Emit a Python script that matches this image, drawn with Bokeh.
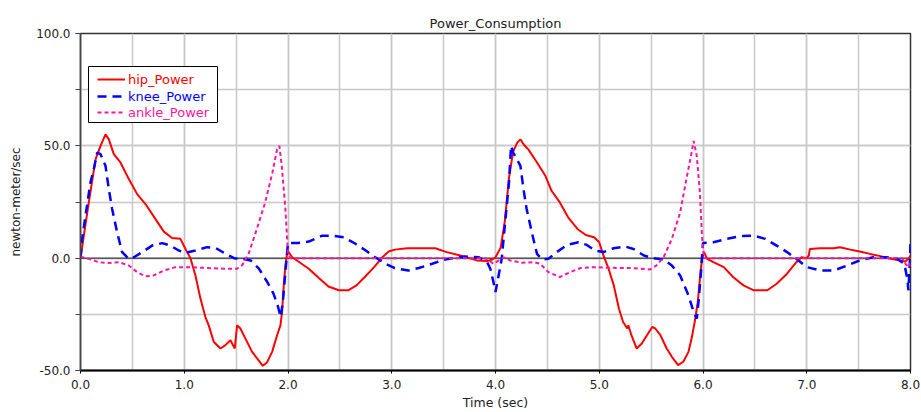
from bokeh.plotting import figure
from bokeh.models import (FixedTicker, PrintfTickFormatter, Span, Legend, LegendItem,
                          BoxAnnotation, Range1d)
from bokeh.embed import file_html
from bokeh.resources import INLINE

# ---------------- data ----------------
hip_t = [0, 0.032, 0.08, 0.145, 0.193, 0.241, 0.273, 0.321, 0.385, 0.466, 0.546, 0.626, 0.723,
         0.803, 0.883, 0.963, 1.012, 1.06, 1.108, 1.156, 1.204, 1.236, 1.285, 1.349, 1.397, 1.445,
         1.487, 1.509, 1.541, 1.59, 1.654, 1.702, 1.757, 1.798, 1.847, 1.895, 1.927, 1.943, 1.959,
         1.975, 1.995, 2.04, 2.10, 2.2, 2.3, 2.39, 2.49, 2.58, 2.66, 2.74, 2.83, 2.91, 2.97, 3.03,
         3.15, 3.26, 3.42, 3.53, 3.66, 3.82, 3.92, 3.97, 4.0, 4.05, 4.09, 4.13, 4.17, 4.21, 4.24,
         4.27, 4.32, 4.40, 4.48, 4.54, 4.62, 4.70, 4.79, 4.87, 4.95, 5.0, 5.04, 5.09, 5.14, 5.19,
         5.23, 5.27, 5.28, 5.31, 5.36, 5.41, 5.46, 5.51, 5.54, 5.59, 5.65, 5.70, 5.76, 5.81, 5.86,
         5.89, 5.92, 5.95, 5.97, 5.99, 6.01, 6.04, 6.10, 6.2, 6.29, 6.39, 6.49, 6.62, 6.71, 6.81,
         6.90, 6.95, 7.0, 7.02, 7.03, 7.13, 7.26, 7.32, 7.42, 7.51, 7.61, 7.71, 7.81, 7.90, 7.95,
         7.98, 8.0]
hip_v = [0, 10, 24.8, 44, 50, 55.1, 52.9, 46.3, 42.6, 35.2, 28.5, 24.1, 17.4,
         11.8, 9.0, 8.6, 4.1, 0, -7.7, -18, -26.2, -29.9, -37.3, -40.2, -38.7, -36.5,
         -40.2, -29.9, -31.3, -35.8, -41.7, -44.6, -47.9, -46.4, -41.7, -34.3, -29.9, -23.9, -12.1,
         -3.3, 3.4, 0.4, -1.5, -4.7, -8.9, -12.6, -14.3, -14.3, -12.1, -8.4, -4.0, 0.4, 3.0, 3.8,
         4.4, 4.4, 4.4, 2.7, 1.2, -1.0, -1.3, -0.6, 0.4, 4.7, 16.5, 35.7, 47.5, 51.4, 52.9,
         50.7, 48.2, 42.6, 36.7, 30, 24.8, 18.2, 13, 10.3, 9.3, 7.1, 1.2, -4.7, -12.1, -22.5,
         -28.4, -31.3, -29.9, -34.3, -40.2, -38, -34.3, -30.6, -31.3, -34.3, -40.2, -43.9, -47.6, -46.1, -41.7,
         -35.8, -28.4, -19.5, -9.2, -0.3, 2.7, -0.3, -1.8, -4.0, -8.4, -12.1, -14.3, -14.3, -11.4, -6.9,
         -1.8, 0.4, 0, 1.2, 4.1, 4.4, 4.4, 4.9, 3.8, 3.0, 1.9, 0.9, -0.3, -1.0, -1.5,
         -0.3, 1.2]

knee_t = [0, 0.016, 0.048, 0.096, 0.128, 0.161, 0.193, 0.241, 0.273, 0.305, 0.353, 0.401, 0.466,
          0.514, 0.594, 0.69, 0.787, 0.867, 0.947, 1.012, 1.108, 1.22, 1.30, 1.40, 1.48, 1.56, 1.64,
          1.72, 1.80, 1.86, 1.90, 1.93, 1.95, 1.975, 1.99, 2.0, 2.10, 2.2, 2.33, 2.42, 2.54, 2.65,
          2.75, 2.84, 2.94, 3.03, 3.16, 3.26, 3.39, 3.48, 3.58, 3.71, 3.84, 3.92, 3.95, 3.98, 4.0,
          4.03, 4.06, 4.09, 4.13, 4.15, 4.17, 4.24, 4.27, 4.30, 4.35, 4.40, 4.45, 4.51, 4.59, 4.69,
          4.80, 4.88, 4.96, 5.04, 5.14, 5.25, 5.33, 5.43, 5.52, 5.62, 5.70, 5.78, 5.86, 5.91, 5.94,
          5.96, 5.98, 6.0, 6.10, 6.23, 6.36, 6.49, 6.6, 6.71, 6.81, 6.90, 7.0, 7.13, 7.26, 7.39,
          7.51, 7.64, 7.77, 7.87, 7.94, 7.97, 7.98, 7.99, 8.0]
knee_v = [0, 8.6, 18.9, 33.7, 39.6, 47, 46.3, 41.1, 30.7, 21.9, 11.5, 2.7, -0.3,
          0.4, 2.7, 5.6, 6.7, 5.6, 3.4, 2.4, 3.4, 4.9, 4.6, 1.9, 0, -0.3, -1.0,
          -4.7, -10.6, -15.8, -21, -26.2, -19.5, -6.2, 1.9, 6.8, 6.8, 7.4, 10, 10, 9.3, 6.4,
          3.4, 0.4, -2.5, -4.4, -5.5, -4.4, -2.5, -1.0, 0, 0.7, 0.4, -1.8, -4.7, -10.6, -15.1,
          -7.7, -0.3, 14.5, 33.7, 50, 47, 41.1, 30.7, 21.9, 11.5, 1.9, -0.6, -0.3, 2.7, 5.9,
          7.1, 5.9, 3.4, 2.7, 4.4, 5.2, 4.1, 1.2, 0, -0.6, -3.3, -7.7, -16.6, -23.9, -26.9,
          -18, -6.2, 6.8, 7.1, 8.6, 9.8, 10, 8.6, 5.6, 2.7, -0.3, -4.0, -5.5, -5.5, -3.3,
          -1.0, 0.4, 0.4, -0.3, -2.5, -9.2, -14.3, -4.7, 6.4]

ankle_t = [0, 0.08, 0.177, 0.273, 0.37, 0.466, 0.546, 0.626, 0.706, 0.803, 0.915, 1.04, 1.236,
           1.397, 1.51, 1.56, 1.62, 1.70, 1.78, 1.85, 1.895, 1.917, 1.94, 1.975, 2.0, 2.02, 3.90,
           3.95, 3.98, 4.08, 4.14, 4.25, 4.37, 4.43, 4.51, 4.62, 4.72, 4.82, 4.95, 5.11, 5.30,
           5.49, 5.55, 5.62, 5.70, 5.78, 5.84, 5.89, 5.91, 5.94, 5.97, 5.99, 6.01, 6.03, 7.92,
           7.96, 7.99, 8.0]
ankle_v = [0.7, -0.3, -1.8, -2.2, -1.8, -3.3, -6.2, -8.1, -7.7, -5.5, -4.0, -4.0, -4.4,
           -4.7, -4.7, -3.0, 1.9, 13, 24.8, 38.1, 48.5, 50, 41.1, 21.9, 1.9, 0, 0,
           -1.5, -2.5, 0.4, -1.0, -2.0, -1.8, -2.5, -6.2, -8.4, -6.2, -4.4, -4.0, -4.3, -4.4,
           -5.0, -3.3, 0.4, 8.6, 20.4, 35.2, 47, 52.2, 45.5, 29.3, 10, 0.4, 0, 0,
           -3.0, -4.0, -1.0]

series_names = ["hip_Power", "knee_Power", "ankle_Power"]
x_ticks = [0, 1, 2, 3, 4, 5, 6, 7, 8]
x_grid = [0, 0.5, 1, 1.5, 2, 2.5, 3, 3.5, 4, 4.5, 5, 5.5, 6, 6.5, 7, 7.5, 8]
y_ticks = [-50, 0, 50, 100]
y_grid = [-50, -25, 0, 25, 50, 75, 100]

# ---------------- styling ----------------
FONT = "DejaVu Sans"
TXT = "#222222"
RED = "#ff0000"
BLUE = "#0000ff"
PINK = "#ff14a0"
GRID = "#c8c8c8"

p = figure(width=921, height=412, output_backend="svg", toolbar_location=None,
           x_range=Range1d(0, 8), y_range=Range1d(-50, 100),
           min_border_left=80, min_border_right=11, min_border_top=33, min_border_bottom=41)
p.background_fill_color = "white"
p.border_fill_color = "white"
p.outline_line_color = "#333333"
p.outline_line_width = 1.5

p.title.text = "Power_Consumption"
p.title.align = "center"
p.title.text_font = FONT
p.title.text_font_size = "13px"
p.title.text_font_style = "normal"
p.title.text_color = TXT
p.title.standoff = 5

# axes
xa = p.xaxis[0]
xa.ticker = FixedTicker(ticks=x_ticks, minor_ticks=x_grid)
xa.formatter = PrintfTickFormatter(format="%.1f")
xa.major_tick_out = 3
xa.major_tick_in = 0
xa.minor_tick_out = 0
xa.minor_tick_in = 0
xa.axis_line_color = "black"
xa.axis_line_width = 2
xa.major_tick_line_color = "black"
xa.major_label_text_font = FONT
xa.major_label_text_font_size = "12px"
xa.major_label_text_color = TXT
xa.major_label_standoff = 6
xa.axis_label = "Time (sec)"
xa.axis_label_text_font = FONT
xa.axis_label_text_font_size = "12.5px"
xa.axis_label_text_font_style = "normal"
xa.axis_label_text_color = TXT
xa.axis_label_standoff = 3

ya = p.yaxis[0]
ya.ticker = FixedTicker(ticks=y_ticks, minor_ticks=y_grid)
ya.formatter = PrintfTickFormatter(format="%.1f")
ya.major_tick_out = 5
ya.major_tick_in = 0
ya.minor_tick_out = 5
ya.minor_tick_in = 0
ya.axis_line_color = "#444444"
ya.axis_line_width = 1.5
ya.major_tick_line_color = "#444444"
ya.minor_tick_line_color = "#444444"
ya.major_label_text_font = FONT
ya.major_label_text_font_size = "12px"
ya.major_label_text_color = TXT
ya.major_label_standoff = 5
ya.axis_label = "newton-meter/sec"
ya.axis_label_text_font = FONT
ya.axis_label_text_font_size = "12px"
ya.axis_label_text_font_style = "normal"
ya.axis_label_text_color = TXT
ya.axis_label_standoff = 10

for g in (p.xgrid[0], p.ygrid[0]):
    g.grid_line_color = GRID
    g.grid_line_width = 1.5
    g.minor_grid_line_color = GRID
    g.minor_grid_line_width = 1.5

p.add_layout(Span(location=0, dimension="width", line_color="#555555",
                  line_width=1.5, level="underlay"))

# curves
r_hip = p.line(hip_t, hip_v, line_color=RED, line_width=2)
r_knee = p.line(knee_t, knee_v, line_color=BLUE, line_width=2.5, line_dash="9 6")
r_ankle = p.line(ankle_t, ankle_v, line_color=PINK, line_width=2, line_dash="4 3")

# legend box + coloured entries
p.add_layout(BoxAnnotation(left=8, right=137, top=304, bottom=248,
                           left_units="screen", right_units="screen",
                           top_units="screen", bottom_units="screen",
                           fill_color="white", fill_alpha=1.0,
                           line_color="black", line_width=1, line_alpha=1.0))

for r, name, col, ypos in ((r_hip, series_names[0], RED, 283),
                           (r_knee, series_names[1], BLUE, 266),
                           (r_ankle, series_names[2], PINK, 250)):
    lg = Legend(items=[LegendItem(label=name, renderers=[r])], location=(17, ypos),
                padding=0, spacing=0, margin=0, glyph_width=28, glyph_height=16,
                label_height=16, label_standoff=3,
                label_text_font=FONT, label_text_font_size="13px", label_text_color=col,
                border_line_alpha=0, background_fill_alpha=0)
    p.add_layout(lg)

open("out.html", "w").write(file_html(p, INLINE))
